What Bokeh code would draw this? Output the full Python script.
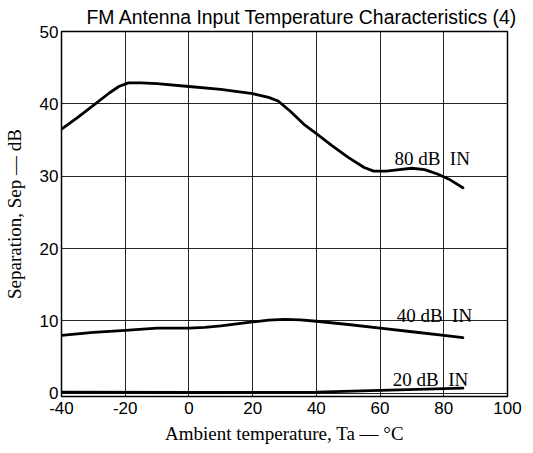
from bokeh.plotting import figure
from bokeh.models import Label, FixedTicker, Range1d
from bokeh.embed import file_html
from bokeh.resources import INLINE

# ---- data ----
temp_80 = [-40, -35, -30, -25, -22, -19, -15, -10, 0, 10, 20, 25, 28, 32, 36, 40, 45, 50, 55, 58, 62, 66, 70, 74, 78, 82, 86]
sep_80 = [36.5, 38.1, 39.8, 41.5, 42.4, 42.9, 42.9, 42.8, 42.4, 42.0, 41.4, 40.9, 40.4, 38.9, 37.2, 35.9, 34.2, 32.6, 31.2, 30.7, 30.7, 30.9, 31.1, 30.9, 30.3, 29.5, 28.4]

temp_40 = [-40, -30, -20, -10, 0, 5, 10, 15, 20, 25, 30, 35, 40, 50, 60, 70, 80, 86]
sep_40 = [8.0, 8.4, 8.7, 9.0, 9.0, 9.1, 9.3, 9.6, 9.85, 10.1, 10.2, 10.15, 9.95, 9.5, 9.0, 8.5, 8.0, 7.7]

temp_20 = [-40, 0, 40, 60, 86]
sep_20 = [0.15, 0.1, 0.15, 0.4, 0.7]

x_ticks = [-40, -20, 0, 20, 40, 60, 80, 100]
x_tick_text = ["-40", "-20", "0", "20", "40", "60", "80", "100"]
y_ticks = [0, 10, 20, 30, 40, 50]

series_labels = ["80 dB \u00a0IN", "40 dB \u00a0IN", "20 dB \u00a0IN"]
label_x = [64.5, 65.2, 64.0]
label_y = [32.4, 10.8, 1.9]

p = figure(frame_width=446, frame_height=365, output_backend="svg", toolbar_location=None,
           x_range=Range1d(-40, 100), y_range=Range1d(-0.45, 50),
           min_border_left=55, min_border_right=16, min_border_top=0, min_border_bottom=0,
           background_fill_color="white", border_fill_color="white")

p.title.text = "FM Antenna Input Temperature Characteristics (4)"
p.title.text_font = "Liberation Sans"
p.title.text_font_size = "19.4px"
p.title.text_font_style = "normal"
p.title.text_color = "black"
p.title.align = "left"
p.title.offset = 25
p.title.standoff = 7

p.outline_line_color = "black"
p.outline_line_width = 1.5

p.xaxis.ticker = FixedTicker(ticks=x_ticks)
p.yaxis.ticker = FixedTicker(ticks=y_ticks)
p.xaxis.major_label_overrides = {t: s for t, s in zip(x_ticks, x_tick_text)}
for ax in (p.xaxis[0], p.yaxis[0]):
    ax.axis_line_color = None
    ax.major_tick_line_color = None
    ax.minor_tick_line_color = None
    ax.major_tick_out = 0
    ax.major_tick_in = 0
    ax.minor_tick_out = 0
    ax.major_label_text_font = "Liberation Sans"
    ax.major_label_text_font_size = "17px"
    ax.major_label_text_color = "black"
    ax.axis_label_text_font = "Liberation Serif"
    ax.axis_label_text_font_size = "19px"
    ax.axis_label_text_font_style = "normal"
    ax.axis_label_text_color = "black"

p.xaxis.major_label_standoff = 5
p.yaxis.major_label_standoff = 3
p.xaxis.axis_label = "Ambient temperature, Ta \u2014 \u00b0C"
p.yaxis.axis_label = "Separation, Sep \u2014 dB"
p.xaxis.axis_label_standoff = 6
p.yaxis.axis_label_standoff = 12

p.xgrid.ticker = FixedTicker(ticks=x_ticks)
p.ygrid.ticker = FixedTicker(ticks=y_ticks)
p.grid.grid_line_color = "black"
p.grid.grid_line_width = 1
p.grid.grid_line_alpha = 0.85

p.line(temp_80, sep_80, line_color="black", line_width=2.8, line_join="round", line_cap="round")
p.line(temp_40, sep_40, line_color="black", line_width=2.8, line_join="round", line_cap="round")
p.line(temp_20, sep_20, line_color="black", line_width=2.8, line_join="round", line_cap="round")

for t, lx, ly in zip(series_labels, label_x, label_y):
    p.add_layout(Label(x=lx, y=ly, text=t, text_font="Liberation Serif",
                       text_font_size="19px", text_color="black",
                       text_baseline="alphabetic", background_fill_color=None))

open("out.html", "w").write(file_html(p, INLINE))
